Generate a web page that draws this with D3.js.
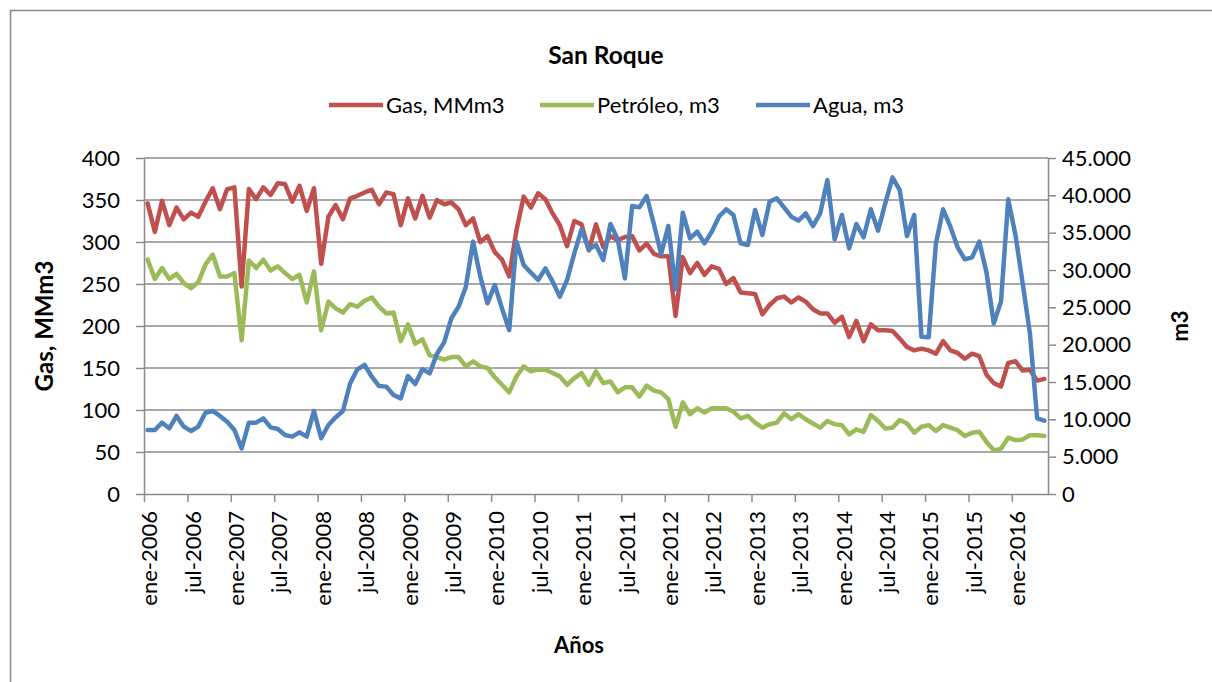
<!DOCTYPE html>
<html>
<head>
<meta charset="utf-8">
<script src="https://cdn.jsdelivr.net/npm/d3@7"></script>
<style>
  body { margin: 0; background: #fff; }
  text { font-family: Lato, "Open Sans", sans-serif; fill: #000; }
</style>
</head>
<body>
<svg id="chart" width="1212" height="682"></svg>
<script>
// categories: monthly, ene-2006 .. may-2016
var monthNames = ["ene", "feb", "mar", "abr", "may", "jun", "jul", "ago", "sep", "oct", "nov", "dic"];
var years = [2006, 2007, 2008, 2009, 2010, 2011, 2012, 2013, 2014, 2015, 2016];
var months = [];
years.forEach(function(y) {
  monthNames.forEach(function(m) { months.push(m + "-" + y); });
});
months = months.slice(0, 125);

var gas = [346, 312, 349, 320, 341, 327, 335, 330, 348, 364, 339, 363,
  365, 247, 363, 351, 365, 356, 370, 369, 348, 367, 337, 364,
  274, 330, 344, 327, 352, 355, 359, 362, 345, 359, 357, 320,
  352, 328, 355, 329, 350, 345, 347, 339, 320, 328, 300, 307,
  288, 279, 259, 314, 354, 341, 358, 351, 334, 320, 295, 325,
  321, 290, 321, 294, 307, 302, 306, 307, 290, 298, 286, 283,
  283, 212, 282, 263, 275, 261, 271, 268, 250, 257, 240, 239,
  238, 214, 225, 233, 235, 228, 234, 229, 220, 215, 215, 204,
  211, 187, 206, 182, 202, 195, 195, 194, 185, 175, 171, 173,
  171, 167, 182, 171, 168, 161, 167, 164, 142, 132, 128, 156,
  158, 147, 148, 135, 137];

var petroleo = [279, 256, 269, 256, 262, 251, 245, 252, 273, 285, 259, 259,
  263, 183, 278, 269, 279, 266, 271, 263, 256, 261, 228, 265,
  195, 229, 221, 216, 226, 223, 230, 234, 223, 215, 216, 182,
  202, 179, 184, 165, 163, 160, 163, 163, 152, 158, 152, 150,
  139, 130, 121, 140, 152, 146, 148, 148, 144, 140, 130, 138,
  144, 130, 146, 132, 134, 121, 127, 127, 116, 129, 123, 121,
  113, 80, 109, 95, 102, 97, 102, 102, 102, 98, 90, 93,
  85, 79, 83, 85, 96, 89, 95, 89, 84, 79, 87, 83,
  82, 71, 77, 74, 94, 87, 78, 79, 88, 84, 73, 80,
  82, 75, 82, 79, 76, 69, 73, 74, 62, 52, 54, 67,
  64, 65, 70, 70, 69];

var agua = [8570, 8570, 9550, 8800, 10450, 9020, 8440, 9020, 10890, 11120, 10450, 9690,
  8570, 6120, 9550, 9550, 10130, 8930, 8700, 7900, 7680, 8260, 7680, 11120,
  7460, 9240, 10270, 11120, 14800, 16700, 17280, 15710, 14460, 14380, 13260, 12810,
  15800, 14730, 16700, 16160, 18750, 20300, 23530, 25090, 27770, 33800, 29110, 25540,
  27990, 24870, 21960, 33800, 30670, 29640, 28660, 30220, 28440, 26430, 28660, 32230,
  35450, 32770, 33350, 31340, 36160, 34110, 28880, 38570, 38390, 39910, 36160, 32140,
  35890, 27410, 37680, 34240, 35130, 33570, 35130, 37140, 38130, 37370, 33570, 33350,
  38040, 34690, 39150, 39600, 38390, 37140, 36610, 37590, 35890, 37590, 42050, 34110,
  37370, 32900, 36160, 34380, 38130, 35270, 38930, 42410, 40710, 34550, 37370, 21070,
  20980, 33570, 38130, 35800, 33040, 31430, 31700, 33800, 29640, 22860, 25760, 39460,
  34690, 28210, 21520, 10130, 9820];

var leftTicks = [0, 50, 100, 150, 200, 250, 300, 350, 400];
var rightTicks = [0, 5000, 10000, 15000, 20000, 25000, 30000, 35000, 40000, 45000];

var series = [
  { name: "Gas, MMm3", values: gas, color: "#C0504D", axis: "left" },
  { name: "Petróleo, m3", values: petroleo, color: "#9BBB59", axis: "left" },
  { name: "Agua, m3", values: agua, color: "#4F81BD", axis: "right" }
];

var plot = { left: 144, right: 1048, top: 158, bottom: 494 };
var svg = d3.select("#chart");
var gridColor = "#8c8c8c";
var tickFont = 22;

// outer frame
svg.append("rect")
  .attr("x", 10.5).attr("y", 10.5)
  .attr("width", 1240).attr("height", 700)
  .attr("fill", "none").attr("stroke", "#888").attr("stroke-width", 1.5);

var xIdx = d3.scaleLinear().domain([0, months.length]).range([plot.left, plot.right]);
var yLeft = d3.scaleLinear().domain([0, 400]).range([plot.bottom, plot.top]);
var yRight = d3.scaleLinear().domain([0, 45000]).range([plot.bottom, plot.top]);

var esLocale = d3.formatLocale({ decimal: ",", thousands: ".", grouping: [3], currency: ["$", ""] });
var fmtRight = esLocale.format(",");

// gridlines
svg.append("g").selectAll("line")
  .data(leftTicks.slice(1))
  .enter().append("line")
  .attr("x1", plot.left).attr("x2", plot.right)
  .attr("y1", d => yLeft(d)).attr("y2", d => yLeft(d))
  .attr("stroke", gridColor).attr("stroke-width", 1.5);

function styleAxis(g) {
  g.select(".domain").attr("stroke", gridColor).attr("stroke-width", 1.5);
  g.selectAll(".tick line").attr("stroke", gridColor).attr("stroke-width", 1.5);
  g.selectAll(".tick text").attr("font-size", tickFont).attr("fill", "#000");
}

var leftAxis = d3.axisLeft(yLeft).tickValues(leftTicks).tickSize(8).tickPadding(16).tickSizeOuter(0);
svg.append("g")
  .attr("transform", `translate(${plot.left}, 0)`)
  .call(leftAxis)
  .call(styleAxis);

var rightAxis = d3.axisRight(yRight).tickValues(rightTicks).tickSize(8).tickPadding(6)
  .tickSizeOuter(0).tickFormat(fmtRight);
svg.append("g")
  .attr("transform", `translate(${plot.right}, 0)`)
  .call(rightAxis)
  .call(styleAxis);

// bottom axis: tick marks between categories every 6 months
var tickIdx = d3.range(0, months.length + 1, 6);
var bottomTicks = d3.axisBottom(xIdx).tickValues(tickIdx).tickSize(8).tickFormat("").tickSizeOuter(0);
svg.append("g")
  .attr("transform", `translate(0, ${plot.bottom})`)
  .call(bottomTicks)
  .call(styleAxis);

// category labels
var xBand = d3.scaleBand().domain(months).range([plot.left, plot.right]);
var labelAxis = d3.axisBottom(xBand)
  .tickValues(months.filter((m, i) => i % 6 === 0))
  .tickSize(0);
var labels = svg.append("g")
  .attr("transform", `translate(0, ${plot.bottom})`)
  .call(labelAxis);
labels.select(".domain").remove();
labels.selectAll(".tick text")
  .attr("font-size", tickFont)
  .attr("transform", "rotate(-90)")
  .attr("text-anchor", "end")
  .attr("x", -17)
  .attr("y", 2)
  .attr("dy", "0.35em");

// lines
series.forEach(function(s) {
  var yS = s.axis === "left" ? yLeft : yRight;
  var line = d3.line()
    .x((d, i) => xIdx(i + 0.5))
    .y(d => yS(d));
  svg.append("path")
    .datum(s.values)
    .attr("d", line)
    .attr("fill", "none")
    .attr("stroke", s.color)
    .attr("stroke-width", 4.5)
    .attr("stroke-linejoin", "round")
    .attr("stroke-linecap", "round");
});

// title
svg.append("text")
  .attr("x", 606).attr("y", 64)
  .attr("text-anchor", "middle")
  .attr("font-size", 24.5).attr("font-weight", "bold")
  .text("San Roque");

// legend
var legendX = [329, 540, 756];
var legend = svg.append("g").selectAll("g")
  .data(series)
  .enter().append("g")
  .attr("transform", (d, i) => `translate(${legendX[i]}, 105)`);
legend.append("line")
  .attr("x1", 0).attr("x2", 54)
  .attr("stroke", d => d.color).attr("stroke-width", 4.5);
legend.append("text")
  .attr("x", 57).attr("dy", "0.35em")
  .attr("font-size", tickFont)
  .text(d => d.name);

// axis titles
svg.append("text")
  .attr("transform", `translate(53, ${(plot.top + plot.bottom) / 2}) rotate(-90)`)
  .attr("text-anchor", "middle")
  .attr("font-size", 24).attr("font-weight", "bold")
  .text("Gas, MMm3");

svg.append("text")
  .attr("transform", `translate(1188, ${(plot.top + plot.bottom) / 2}) rotate(-90)`)
  .attr("text-anchor", "middle")
  .attr("font-size", 22).attr("font-weight", "bold")
  .text("m3");

svg.append("text")
  .attr("x", 579).attr("y", 653)
  .attr("text-anchor", "middle")
  .attr("font-size", 22).attr("font-weight", "bold")
  .text("Años");
</script>
</body>
</html>
